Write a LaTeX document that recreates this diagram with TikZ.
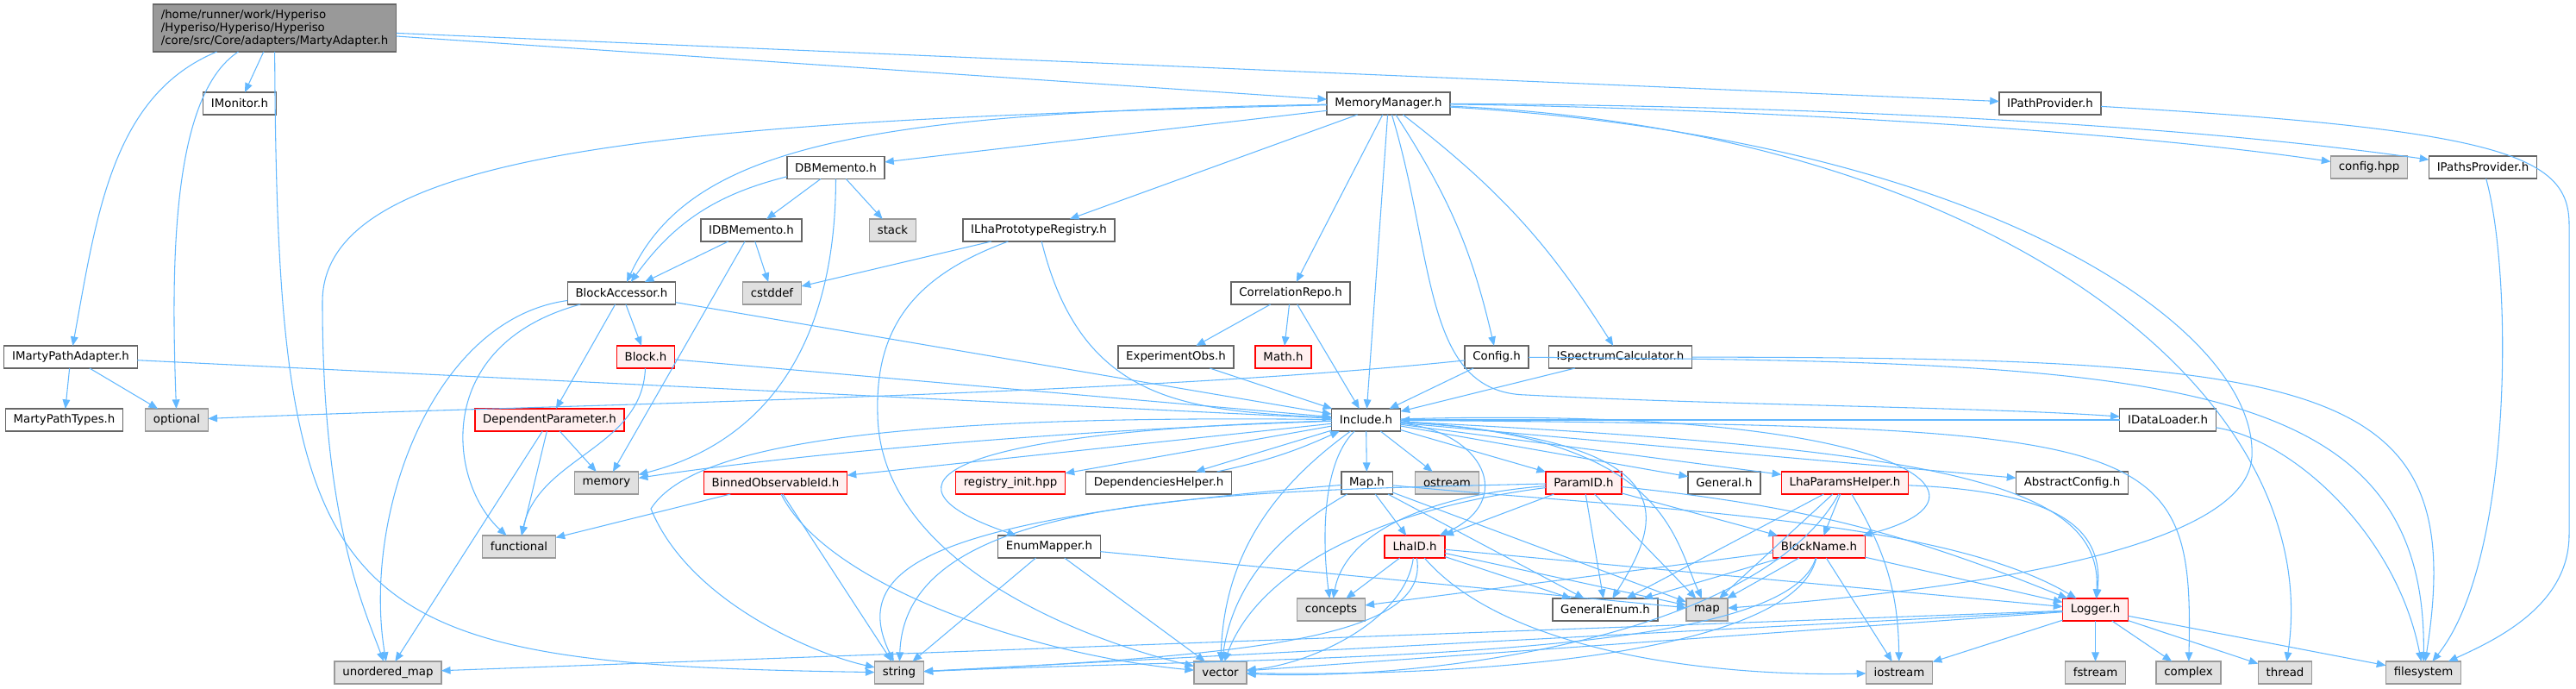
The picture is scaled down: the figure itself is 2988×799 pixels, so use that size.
\documentclass[tikz,border=0pt]{standalone}
\usepackage{fontspec}
\setmainfont{DejaVu Sans}
\usepackage{tkz-graph}
\usetikzlibrary{arrows.meta}
\definecolor{doxedge}{HTML}{63B8FF}
\definecolor{doxline}{HTML}{666666}
\definecolor{doxsysline}{HTML}{999999}
\definecolor{doxsys}{HTML}{E0E0E0}
\definecolor{doxpink}{HTML}{FFF0F0}
\definecolor{doxroot}{HTML}{999999}
\newcommand{\userfill}{white}
\newcommand{\sysfill}{doxsys}
\newcommand{\redfill}{doxpink}

\begin{document}
\begin{tikzpicture}[x=0.75pt,y=-0.75pt]
        \useasboundingbox (0,0) rectangle (2988,799);
        \tikzset{filebox/.style={rectangle, font=\fontsize{10}{11.25}\selectfont, minimum height=19.5pt, inner xsep=7pt, inner ysep=0pt, line width=1.1pt}}
        \tikzset{EdgeStyle/.style={draw=doxedge, line width=0.8pt, -{Triangle[length=8pt,width=6.5pt]}}}
        \tikzset{LabelStyle/.style={draw=none, fill=none, inner sep=0pt}}
        %\tikzset{EdgeStyle/.append style={bend left=5}}
        \tikzset{VertexStyle/.style={filebox, draw=doxline, fill=doxroot, align=left, minimum height=41.25pt}}
        \Vertex[x=318.5,y=32.5,L={/home/runner/work/Hyperiso\\/Hyperiso/Hyperiso/Hyperiso\\/core/src/Core/adapters/MartyAdapter.h}]{root}
        \tikzset{VertexStyle/.style={filebox, draw=doxline, fill=\userfill}}
        \Vertex[x=278,y=120,L={IMonitor.h}]{IMonitor}
        \Vertex[x=1610.5,y=120,L={MemoryManager.h}]{MemMgr}
        \Vertex[x=2378,y=120,L={IPathProvider.h}]{IPathProv}
        \Vertex[x=969.5,y=194.5,L={DBMemento.h}]{DBMemento}
        \Vertex[x=2880,y=194,L={IPathsProvider.h}]{IPathsProv}
        \Vertex[x=871.5,y=267,L={IDBMemento.h}]{IDBMemento}
        \Vertex[x=1205,y=267,L={ILhaPrototypeRegistry.h}]{ILhaReg}
        \Vertex[x=721,y=340,L={BlockAccessor.h}]{BlockAcc}
        \Vertex[x=1497,y=340,L={CorrelationRepo.h}]{CorrRepo}
        \Vertex[x=82,y=414,L={IMartyPathAdapter.h}]{IMartyPath}
        \Vertex[x=1364,y=414,L={ExperimentObs.h}]{ExpObs}
        \Vertex[x=1736,y=414,L={Config.h}]{Config}
        \Vertex[x=1879.5,y=414,L={ISpectrumCalculator.h}]{ISpecCalc}
        \Vertex[x=74.5,y=487,L={MartyPathTypes.h}]{MartyTypes}
        \Vertex[x=1584.5,y=487,L={Include.h}]{Include}
        \Vertex[x=2514.5,y=487,L={IDataLoader.h}]{IDataLoader}
        \Vertex[x=1344,y=560,L={DependenciesHelper.h}]{DepHelper}
        \Vertex[x=1585.5,y=560,L={Map.h}]{MapH}
        \Vertex[x=2000,y=560,L={General.h}]{General}
        \Vertex[x=2403.5,y=560,L={AbstractConfig.h}]{AbsConfig}
        \Vertex[x=1217,y=634,L={EnumMapper.h}]{EnumMapper}
        \Vertex[x=1862,y=707,L={GeneralEnum.h}]{GenEnum}
        \tikzset{VertexStyle/.style={filebox, draw=red, fill=\redfill}}
        \Vertex[x=749,y=414,L={Block.h}]{Block}
        \Vertex[x=1488.5,y=414,L={Math.h}]{MathH}
        \Vertex[x=637.5,y=487,L={DependentParameter.h}]{DepParam}
        \Vertex[x=899.5,y=560,L={BinnedObservableId.h}]{BinnedObs}
        \Vertex[x=1172,y=560,L={registry\_init.hpp}]{RegInit}
        \Vertex[x=1837,y=560,L={ParamID.h}]{ParamID}
        \Vertex[x=2140,y=560,L={LhaParamsHelper.h}]{LhaParams}
        \Vertex[x=1641,y=634,L={LhaID.h}]{LhaID}
        \Vertex[x=2110,y=634,L={BlockName.h}]{BlockName}
        \Vertex[x=2430.5,y=707,L={Logger.h}]{Logger}
        \tikzset{VertexStyle/.style={filebox, draw=doxsysline, fill=\sysfill}}
        \Vertex[x=2748,y=194,L={config.hpp}]{cfghpp}
        \Vertex[x=1035.5,y=267,L={stack}]{stack}
        \Vertex[x=895.5,y=340,L={cstddef}]{cstddef}
        \Vertex[x=205,y=487,L={optional}]{optional}
        \Vertex[x=703.5,y=560,L={memory}]{memory}
        \Vertex[x=1678.5,y=560,L={ostream}]{ostream}
        \Vertex[x=602,y=634,L={functional}]{functional}
        \Vertex[x=1544,y=707,L={concepts}]{concepts}
        \Vertex[x=1980,y=707,L={map}]{map}
        \Vertex[x=450,y=780,L={unordered\_map}]{umap}
        \Vertex[x=1043,y=780,L={string}]{string}
        \Vertex[x=1415.5,y=780,L={vector}]{vector}
        \Vertex[x=2203,y=780,L={iostream}]{iostream}
        \Vertex[x=2430.5,y=780,L={fstream}]{fstream}
        \Vertex[x=2538.5,y=780,L={complex}]{complex}
        \Vertex[x=2650.5,y=780,L={thread}]{thread}
        \Vertex[x=2811,y=780,L={filesystem}]{filesystem}
        % MartyAdapter.h
        \Edge(root)(IMonitor)
        \Edge(root)(MemMgr)
        \Edge(root)(IPathProv)
        \draw[EdgeStyle] (root) .. controls (130,110) and (112,250) .. (IMartyPath);
        \draw[EdgeStyle] (root) .. controls (200,110) and (198,300) .. (optional);
        \draw[EdgeStyle] (root) .. controls (322,720) and (380,770) .. (string);
        \Edges(IMartyPath,MartyTypes)
        \Edge(IMartyPath)(optional)
        \Edge(IMartyPath)(Include)
        % MemoryManager.h
        \draw[EdgeStyle] (MemMgr) .. controls (800,140) and (374,170) .. (374,350) .. controls (374,600) and (420,700) .. (umap);
        \draw[EdgeStyle] (MemMgr) .. controls (1000,130) and (800,170) .. (BlockAcc);
        \Edge(MemMgr)(DBMemento)
        \Edge(MemMgr)(ILhaReg)
        \Edge(MemMgr)(CorrRepo)
        \Edge(MemMgr)(Include)
        \Edge[style={bend left=10}](MemMgr)(Config)
        \Edge[style={bend left=10}](MemMgr)(ISpecCalc)
        \draw[EdgeStyle] (MemMgr) .. controls (2000,125) and (2450,150) .. (cfghpp);
        \draw[EdgeStyle] (MemMgr) .. controls (2050,122) and (2500,140) .. (IPathsProv);
        \draw[EdgeStyle] (MemMgr) .. controls (2300,150) and (2700,450) .. (thread);
        \draw[EdgeStyle] (MemMgr) .. controls (1665,300) and (1650,455) .. (1770,458) .. controls (2000,470) and (2300,472) .. (IDataLoader);
        \draw[EdgeStyle] (MemMgr) .. controls (2300,160) and (2620,380) .. (2612,530) .. controls (2605,650) and (2200,690) .. (map);
        \draw[EdgeStyle] (IPathProv) .. controls (2900,150) and (2980,180) .. (2980,260) -- (2980,620) .. controls (2980,700) and (2900,740) .. (filesystem);
        \draw[EdgeStyle] (IPathsProv) .. controls (2915,320) and (2915,650) .. (filesystem);
        % mementos and accessors
        \Edge[style={bend right=20}](DBMemento)(BlockAcc)
        \Edge(DBMemento)(IDBMemento)
        \Edge(DBMemento)(stack)
        \draw[EdgeStyle] (DBMemento) .. controls (969,470) and (820,530) .. (memory);
        \Edge(IDBMemento)(BlockAcc)
        \Edge(IDBMemento)(cstddef)
        \Edge(IDBMemento)(memory)
        \Edge(ILhaReg)(cstddef)
        \draw[EdgeStyle] (ILhaReg) .. controls (1255,470) and (1380,475) .. (Include);
        \draw[EdgeStyle] (ILhaReg) .. controls (1060,320) and (1015,380) .. (1018,480) .. controls (1020,650) and (1250,740) .. (vector);
        \draw[EdgeStyle] (BlockAcc) .. controls (500,370) and (420,600) .. (umap);
        \draw[EdgeStyle] (BlockAcc) .. controls (500,400) and (520,560) .. (functional);
        \Edge(BlockAcc)(DepParam)
        \Edge(BlockAcc)(Block)
        \Edge(BlockAcc)(Include)
        \draw[EdgeStyle] (Block) .. controls (745,520) and (625,530) .. (functional);
        \Edge(Block)(Include)
        \Edge(DepParam)(memory)
        \Edge(DepParam)(functional)
        \Edge(DepParam)(umap)
        \Edge(CorrRepo)(ExpObs)
        \Edge(CorrRepo)(MathH)
        \Edge(CorrRepo)(Include)
        \Edge(ExpObs)(Include)
        \Edge(Config)(Include)
        \draw[EdgeStyle] (Config) .. controls (1300,460) and (600,470) .. (optional);
        \draw[EdgeStyle] (Config) .. controls (2500,420) and (2815,430) .. (filesystem);
        \Edge(ISpecCalc)(Include)
        \draw[EdgeStyle] (ISpecCalc) .. controls (2700,415) and (2865,440) .. (filesystem);
        \Edge(IDataLoader)(Include)
        \draw[EdgeStyle] (IDataLoader) .. controls (2660,510) and (2780,620) .. (filesystem);
        % Include.h
        \draw[EdgeStyle] (Include) .. controls (1200,500) and (900,530) .. (memory);
        \Edge(Include)(BinnedObs)
        \Edge(Include)(RegInit)
        \Edge(Include)(DepHelper)
        \Edge[style={bend right=6}](DepHelper)(Include)
        \draw[EdgeStyle] (Include) .. controls (1100,500) and (1000,560) .. (EnumMapper);
        \Edge(Include)(MapH)
        \Edge(Include)(ostream)
        \Edge(Include)(ParamID)
        \Edge(Include)(General)
        \Edge(Include)(LhaParams)
        \Edge(Include)(AbsConfig)
        \draw[EdgeStyle] (Include) .. controls (1720,500) and (1760,580) .. (LhaID);
        \draw[EdgeStyle] (Include) .. controls (1530,540) and (1535,640) .. (concepts);
        \draw[EdgeStyle] (Include) .. controls (1470,570) and (1420,650) .. (vector);
        \draw[EdgeStyle] (Include) .. controls (1000,480) and (800,520) .. (755,590) .. controls (800,700) and (950,760) .. (string);
        \draw[EdgeStyle] (Include) .. controls (1960,510) and (1930,600) .. (GenEnum);
        \draw[EdgeStyle] (Include) .. controls (1930,505) and (1940,620) .. (map);
        \draw[EdgeStyle] (Include) .. controls (2250,520) and (2440,560) .. (Logger);
        \draw[EdgeStyle] (Include) .. controls (2500,495) and (2545,500) .. (complex);
        \draw[EdgeStyle] (Include) .. controls (2200,470) and (2340,575) .. (BlockName);
        % Map.h, EnumMapper.h, BinnedObservableId.h
        \Edge(MapH)(LhaID)
        \draw[EdgeStyle] (MapH) .. controls (1100,600) and (980,650) .. (string);
        \draw[EdgeStyle] (MapH) .. controls (1480,620) and (1430,680) .. (vector);
        \Edge(MapH)(GenEnum)
        \Edge(MapH)(map)
        \draw[EdgeStyle] (MapH) .. controls (1900,590) and (2250,600) .. (Logger);
        \Edge(EnumMapper)(string)
        \Edge(EnumMapper)(vector)
        \Edge(EnumMapper)(map)
        \Edge(BinnedObs)(functional)
        \Edge(BinnedObs)(string)
        \draw[EdgeStyle] (BinnedObs) .. controls (960,680) and (1200,760) .. (vector);
        % LhaID.h, ParamID.h
        \Edge(LhaID)(concepts)
        \draw[EdgeStyle] (LhaID) .. controls (1630,720) and (1520,770) .. (vector);
        \draw[EdgeStyle] (LhaID) .. controls (1660,740) and (1450,760) .. (string);
        \Edge(LhaID)(GenEnum)
        \Edge(LhaID)(map)
        \draw[EdgeStyle] (LhaID) .. controls (1750,760) and (2000,785) .. (iostream);
        \Edge(LhaID)(Logger)
        \Edge(ParamID)(LhaID)
        \draw[EdgeStyle] (ParamID) .. controls (1650,575) and (1560,620) .. (concepts);
        \draw[EdgeStyle] (ParamID) .. controls (1600,590) and (1460,660) .. (vector);
        \draw[EdgeStyle] (ParamID) .. controls (1400,570) and (1050,575) .. (string);
        \Edge(ParamID)(GenEnum)
        \Edge(ParamID)(map)
        \Edge(ParamID)(BlockName)
        \Edge[style={bend left=8}](ParamID)(Logger)
        % LhaParamsHelper.h, BlockName.h
        \Edge(LhaParams)(BlockName)
        \Edge(LhaParams)(GenEnum)
        \Edge(LhaParams)(map)
        \draw[EdgeStyle] (LhaParams) .. controls (2040,740) and (1650,790) .. (vector);
        \Edge[style={bend left=15}](LhaParams)(iostream)
        \draw[EdgeStyle] (LhaParams) .. controls (2400,570) and (2440,620) .. (Logger);
        \Edge(BlockName)(GenEnum)
        \Edge(BlockName)(map)
        \Edge(BlockName)(iostream)
        \Edge(BlockName)(Logger)
        \draw[EdgeStyle] (BlockName) .. controls (2080,760) and (1700,785) .. (vector);
        \draw[EdgeStyle] (BlockName) .. controls (2070,770) and (1500,760) .. (string);
        \Edge(BlockName)(concepts)
        % Logger.h
        \Edge(Logger)(string)
        \Edge(Logger)(vector)
        \Edge(Logger)(umap)
        \Edge(Logger)(iostream)
        \Edge(Logger)(fstream)
        \Edge(Logger)(complex)
        \Edge(Logger)(thread)
        \Edge(Logger)(filesystem)
    \end{tikzpicture}
\end{document}
